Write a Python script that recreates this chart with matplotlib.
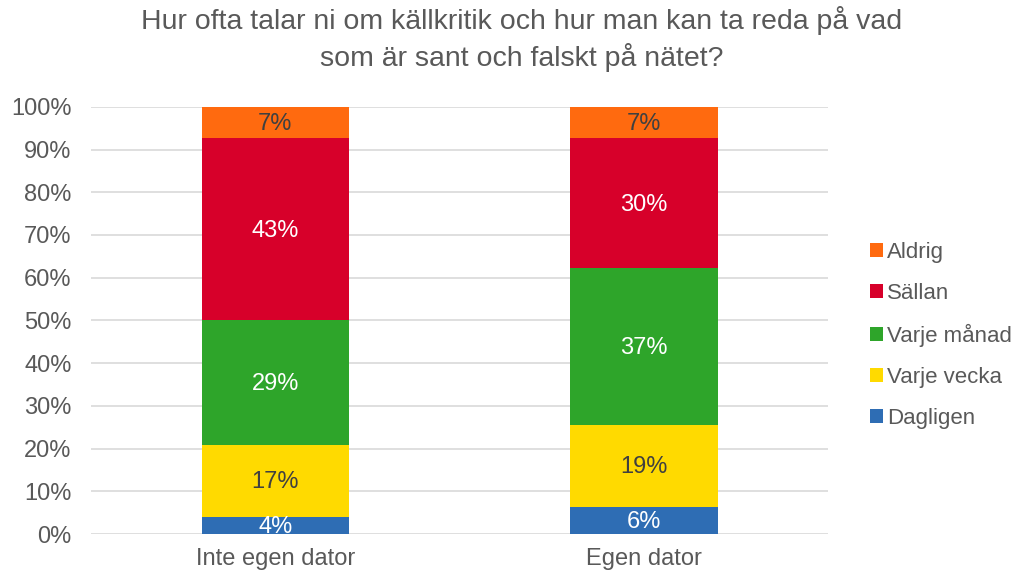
import numpy as np
import matplotlib.pyplot as plt

plt.rcParams['font.family'] = ['Liberation Sans', 'DejaVu Sans']

# Data (percent)
groups = ['Inte egen dator', 'Egen dator']
series = ['Dagligen', 'Varje vecka', 'Varje månad', 'Sällan', 'Aldrig']
dagligen = [4.0, 6.3]
varje_vecka = [16.8, 19.3]
varje_manad = [29.2, 36.6]
sallan = [42.6, 30.4]
aldrig = [7.4, 7.4]
labels = [['4%', '6%'], ['17%', '19%'], ['29%', '37%'], ['43%', '30%'], ['7%', '7%']]

colors = ['#2E6DB4', '#FFDA00', '#2EA52A', '#D7002A', '#FF6A0F']
text_colors = ['white', '#404040', 'white', 'white', '#404040']

fig = plt.figure(figsize=(10.27, 5.75), dpi=100)
ax = fig.add_axes([0.0886, 0.0713, 0.718, 0.743])

x = np.arange(len(groups))
bottom = np.zeros(len(groups))
handles = []
for i, vals in enumerate([dagligen, varje_vecka, varje_manad, sallan, aldrig]):
    bars = ax.bar(x, vals, 0.4, bottom=bottom, color=colors[i], label=series[i], zorder=3)
    handles.append(bars)
    for j, b in enumerate(bars):
        ax.text(b.get_x() + b.get_width() / 2, bottom[j] + vals[j] / 2 - 0.3, labels[i][j],
                ha='center', va='center', fontsize=17, color=text_colors[i], zorder=4)
    bottom += np.array(vals)

ax.set_xlim(-0.5, 1.5)
ax.set_ylim(0, 100)
ax.set_yticks(np.arange(0, 101, 10))
ax.set_yticklabels([f'{v}%' for v in range(0, 101, 10)])
ax.set_xticks(x)
ax.set_xticklabels(groups)
ax.tick_params(axis='both', length=0, labelsize=17, labelcolor='#595959')
ax.tick_params(axis='y', pad=14)
ax.tick_params(axis='x', pad=10)
ax.yaxis.grid(True, color='#D9D9D9', linewidth=1.2, zorder=0)
for s in ['top', 'right', 'left', 'bottom']:
    ax.spines[s].set_visible(False)

ax.legend(handles[::-1], series[::-1], loc='center left', bbox_to_anchor=(1.03, 0.465),
          frameon=False, fontsize=16, handlelength=0.55, handleheight=0.6,
          handletextpad=0.2, labelspacing=0.9, labelcolor='#595959')

fig.text(0.508, 0.99, 'Hur ofta talar ni om källkritik och hur man kan ta reda på vad\nsom är sant och falskt på nätet?',
         ha='center', va='top', fontsize=20.5, color='#595959', linespacing=1.35)

fig.savefig('out.png', dpi=100)
